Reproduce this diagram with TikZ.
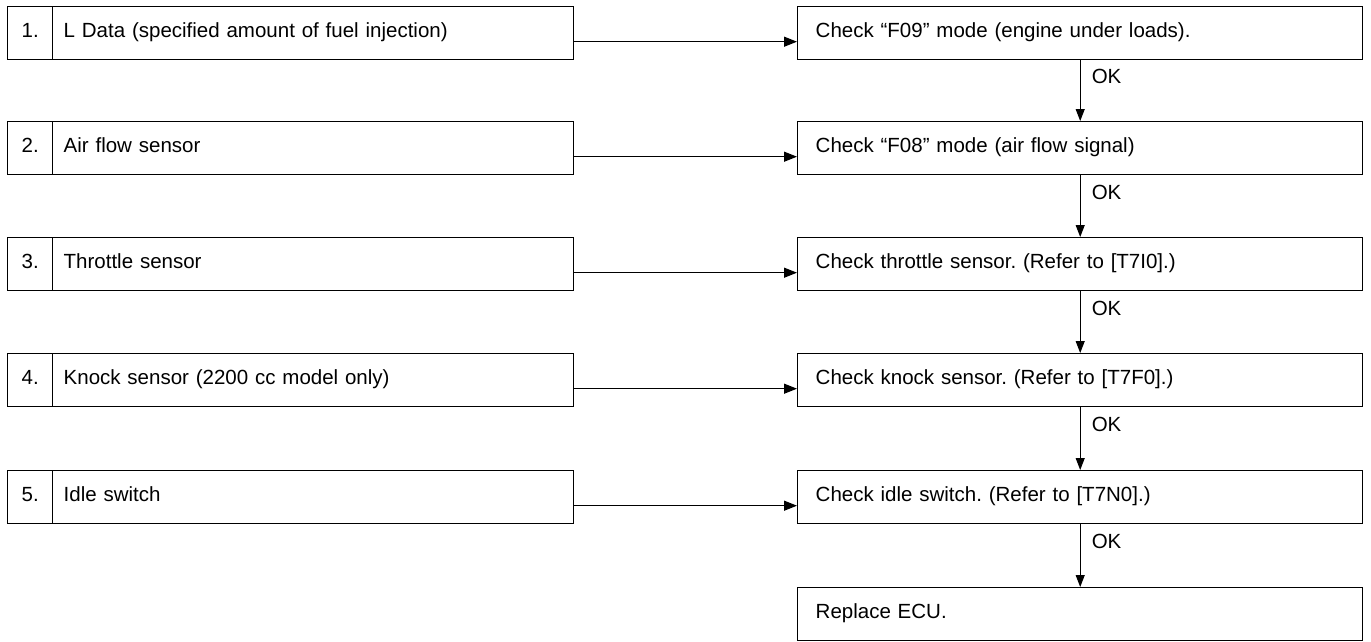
\documentclass[tikz,border=0pt]{standalone}
\usepackage{fontspec}
\setmainfont{Liberation Sans}
\usetikzlibrary{arrows.meta}
\tikzset{
  cell/.style={draw=black, line width=1.4pt, minimum height=53pt, anchor=north west,
    text height=15pt, text depth=7.4pt, inner ysep=0pt,
    font=\fontsize{20.5}{24}\selectfont\frenchspacing},
  numcell/.style={cell, minimum width=45pt, inner xsep=0pt, align=center},
  lcell/.style={cell, text width=499pt, inner xsep=11pt, align=left},
  rcell/.style={cell, text width=529pt, inner xsep=18pt, align=left},
  harr/.style={line width=1.3pt, -{Triangle[length=13pt,width=10pt]}},
  varr/.style={line width=1.1pt, -{Triangle[length=12pt,width=9pt]}},
  okl/.style={anchor=west, inner sep=0pt, xshift=11pt, font=\fontsize{20.5}{24}\selectfont}
}
\begin{document}
\begin{tikzpicture}[x=1pt,y=-1pt]
\useasboundingbox (0,0) rectangle (1371,641);
% left column
\node[numcell] (n1) at (7,6) {1.};
\node[lcell] (l1) at (52,6) {L Data (specified amount of fuel injection)};
\node[numcell] (n2) at (7,121) {2.};
\node[lcell] (l2) at (52,121) {Air flow sensor};
\node[numcell] (n3) at (7,237) {3.};
\node[lcell] (l3) at (52,237) {Throttle sensor};
\node[numcell] (n4) at (7,353) {4.};
\node[lcell] (l4) at (52,353) {Knock sensor (2200 cc model only)};
\node[numcell] (n5) at (7,470) {5.};
\node[lcell] (l5) at (52,470) {Idle switch};
% right column
\node[rcell] (r1) at (797,6) {Check ``F09'' mode (engine under loads).};
\node[rcell] (r2) at (797,121) {Check ``F08'' mode (air flow signal)};
\node[rcell] (r3) at (797,237) {Check throttle sensor. (Refer to [T7I0].)};
\node[rcell] (r4) at (797,353) {Check knock sensor. (Refer to [T7F0].)};
\node[rcell] (r5) at (797,470) {Check idle switch. (Refer to [T7N0].)};
\node[rcell] (r6) at (797,587) {Replace ECU.};
% horizontal arrows
\foreach \i in {1,...,5}{
  \draw[harr] ([yshift=-8.5pt]l\i.east) -- ([yshift=-8.5pt]r\i.west);
}
% vertical arrows
\foreach \a/\b in {r1/r2,r2/r3,r3/r4,r4/r5,r5/r6}{
  \draw[varr] (\a.south) -- node[okl, pos=0.27] {OK} (\b.north);
}
\end{tikzpicture}
\end{document}
